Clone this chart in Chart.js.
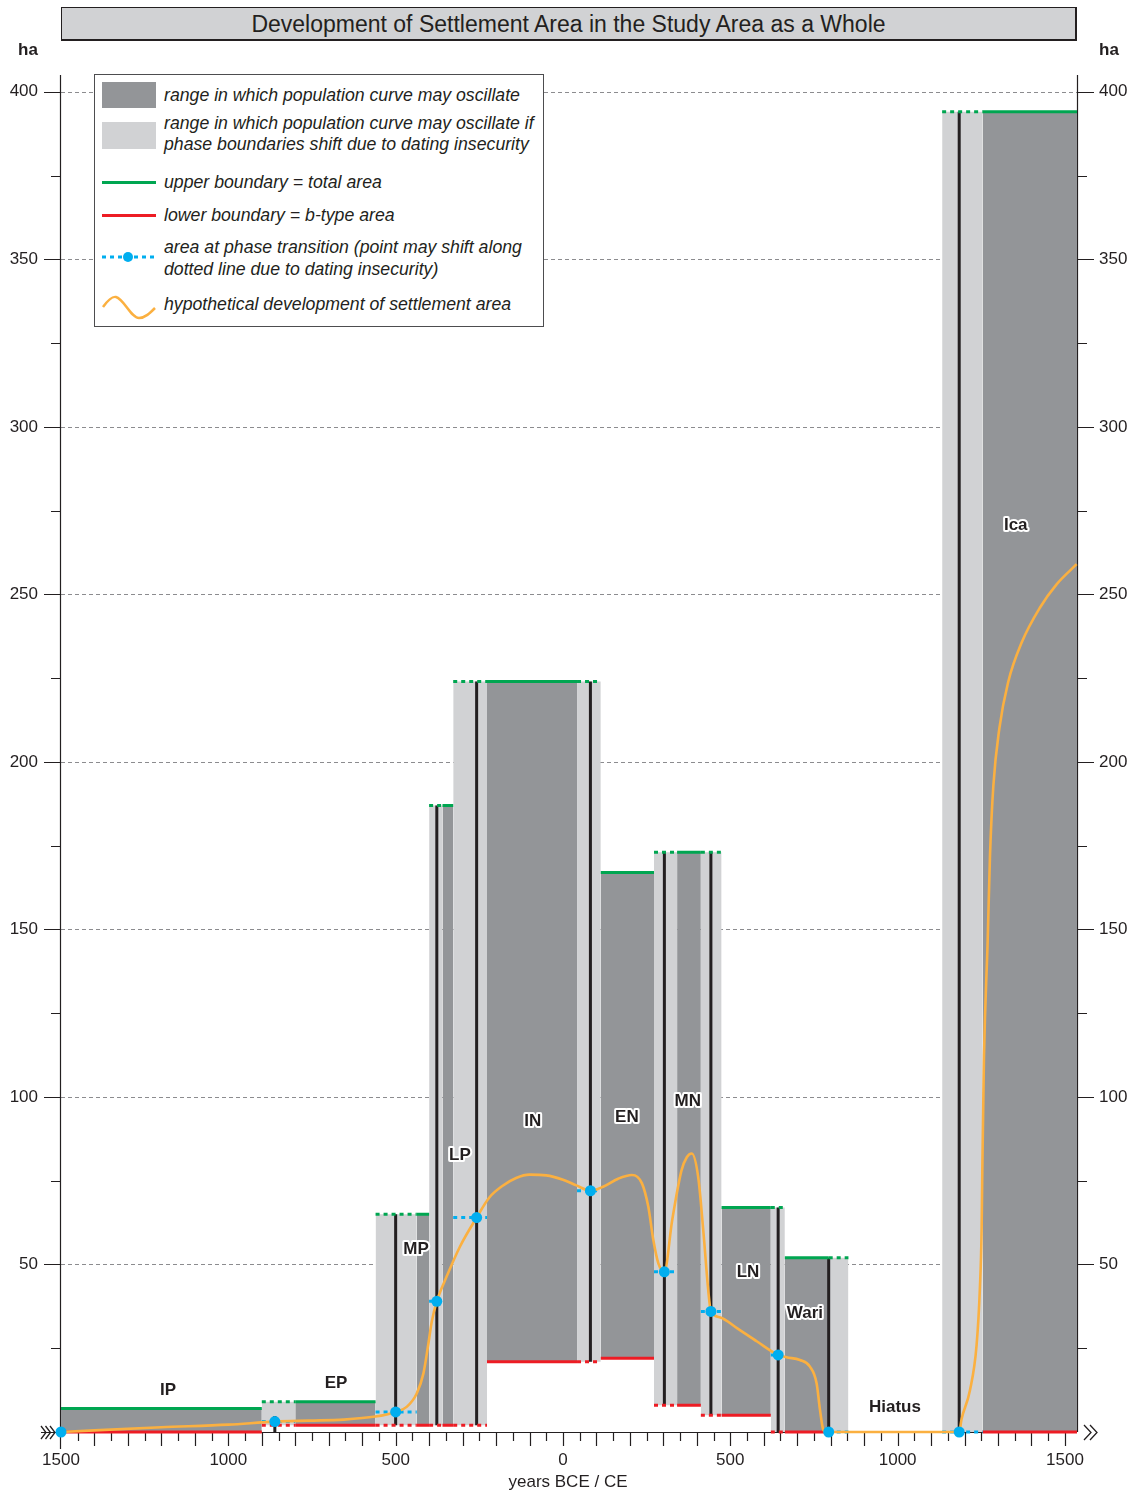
<!DOCTYPE html>
<html>
<head>
<meta charset="utf-8">
<script src="https://cdn.jsdelivr.net/npm/chart.js@4.4.1/dist/chart.umd.min.js"></script>
<style>
  body { margin: 0; background: #fff; font-family: "Liberation Sans", Arial, sans-serif; color: #231f20; }
  #wrap { position: relative; width: 1137px; height: 1494px; overflow: hidden; }
  #chart { position: absolute; left: 0; top: 0; }
  .title { position: absolute; left: 61px; top: 7px; width: 1013px; height: 31px; background: #d1d2d4;
           border: 1px solid #231f20; border-right-width: 2px; border-bottom-width: 2px;
           font-size: 23px; line-height: 32px; text-align: center; }
  .unit { position: absolute; top: 40px; font-weight: bold; font-size: 17px; }
  .axis-title { position: absolute; left: 468px; width: 200px; top: 1472px; text-align: center; font-size: 17px; }
  .legend { position: absolute; left: 94px; top: 74px; width: 450px; height: 253px; background: #fff;
            border: 1px solid #4d4d4f; box-sizing: border-box; }
  .legend svg { position: absolute; left: 0; top: 0; }
  .legend .t { position: absolute; left: 69px; font-style: italic; font-size: 17.7px; line-height: 20px; white-space: nowrap; }
</style>
</head>
<body>
<div id="wrap">
  <canvas id="chart" width="1137" height="1494"></canvas>
  <div class="title">Development of Settlement Area in the Study Area as a Whole</div>
  <div class="unit" style="left:18px">ha</div>
  <div class="unit" style="left:1099px">ha</div>
  <div class="axis-title">years BCE / CE</div>
  <div class="legend">
    <svg width="70" height="250">
      <rect x="7" y="7" width="54" height="26" fill="#939598"/>
      <rect x="7" y="47" width="54" height="27" fill="#d1d2d4"/>
      <line x1="7" y1="107.5" x2="61" y2="107.5" stroke="#00a651" stroke-width="3"/>
      <line x1="7" y1="140.5" x2="61" y2="140.5" stroke="#ed1c24" stroke-width="3"/>
      <line x1="7" y1="182" x2="61" y2="182" stroke="#00aeef" stroke-width="3" stroke-dasharray="4 4"/>
      <circle cx="33" cy="182" r="5" fill="#00aeef"/>
      <path d="M8,232 C13,225 17,221 21,222 C29,224 36,243 44,243 C50,243 55,238 60,233" fill="none" stroke="#fbb040" stroke-width="2.5"/>
    </svg>
    <div class="t" style="top:10px">range in which population curve may oscillate</div>
    <div class="t" style="top:38px;line-height:21px">range in which population curve may oscillate if<br>phase boundaries shift due to dating insecurity</div>
    <div class="t" style="top:97px">upper boundary = total area</div>
    <div class="t" style="top:130px">lower boundary = b-type area</div>
    <div class="t" style="top:161px;line-height:22px">area at phase transition (point may shift along<br>dotted line due to dating insecurity)</div>
    <div class="t" style="top:219px">hypothetical development of settlement area</div>
  </div>
</div>
<script>
// phases (core range = dark grey)
const phaseNames = ['IP', 'EP', 'MP', 'LP', 'IN', 'EN', 'MN', 'LN', 'Wari', 'Hiatus', 'Ica'];
const phaseStart = [-1500, -800, -437, -360, -227, 113, 341, 474, 663, 853, 1254];
const phaseEnd   = [-900, -560, -400, -328, 42, 272, 412, 621, 794, 1133, 1536];
const totalArea  = [7, 9, 65, 187, 224, 167, 173, 67, 52, 0, 394];   // upper boundary
const bTypeArea  = [0, 2, 2, 2, 21, 22, 8, 5, 0, 0, 0];              // lower boundary
const labelYear  = [-1180, -678, -439, -308, -90, 191, 373, 553, 723, 992, 1353];
const labelArea  = [12.5, 14.6, 54.6, 82.6, 92.8, 94, 98.7, 47.7, 35.5, 7.5, 270.5];

// phase transitions (dating insecurity = light grey)
const transStart = [-900, -560, -400, -328, 42, 272, 412, 621, 794, 1133];
const transEnd   = [-800, -437, -360, -227, 113, 341, 474, 663, 853, 1254];
const transYear  = [-861, -500, -377, -258, 82, 303, 442, 643, 794, 1184];
const transArea  = [3.1, 6, 39, 64, 72, 47.8, 36, 23, 0, 0];
const zoneLow    = [2, 2, 2, 2, 21, 8, 5, 0, 0, 0];
const zoneHigh   = [9, 65, 187, 224, 224, 173, 173, 67, 52, 394];
const markLow    = [0, 2, 2, 2, 21, 8, 5, 0, 0, 0];
const markHigh   = [4.8, 65, 187, 224, 224, 173, 173, 67, 52, 394];

// hypothetical development curve
const curveYear = [-1500, -1200, -1000, -861, -760, -655, -561, -500, -467, -437, -417, -402, -392, -377, -348, -308, -258,
  -220, -180, -140, -100, -50, 0, 40, 82, 120, 165, 206, 236, 255, 270, 285, 303, 326, 354, 370, 385, 404, 420, 434, 442,
  470, 520, 580, 643, 668, 708, 738, 758, 768, 778, 786, 794, 1184, 1191, 1216, 1236, 1246, 1251, 1253, 1258, 1269, 1276, 1286,
  1304, 1330, 1371, 1425, 1475, 1535];
const curveArea = [0, 1.4, 2.2, 3.1, 3.4, 3.7, 4.6, 6, 7.5, 11.5, 17.5, 26.5, 33, 39, 46.3, 55.3, 64,
  70, 73.5, 75.8, 76.8, 76.6, 75.3, 73.6, 72, 73.2, 75.6, 76.7, 74.2, 67.2, 57.3, 50.3, 47.8, 63, 78, 82, 83.1, 76.1, 59.3, 42.4, 36,
  34.2, 31, 27, 23, 22.3, 21.5, 19.5, 14.5, 6.6, 0.6, 0, 0, 0, 3.8, 12.4, 26, 43.3, 60.5, 77.7, 112, 146.4, 172, 192.8,
  210, 223.7, 235.7, 246, 253, 259];

// axes
const xLabelYears = [-1500, -1000, -500, 0, 500, 1000, 1500];
const xLabels     = ['1500', '1000', '500', '0', '500', '1000', '1500'];
const yLabelAreas = [50, 100, 150, 200, 250, 300, 350, 400];
const yLabels     = ['50', '100', '150', '200', '250', '300', '350', '400'];

const DARK = '#939598', LIGHT = '#d1d2d4', GREEN = '#00a651', RED = '#ed1c24',
      BLUE = '#00aeef', ORANGE = '#fbb040', INK = '#231f20';

function rect(x0, x1, lo, hi, color, order) {
    return {
        data: [{ x: x0, y: hi }, { x: x1, y: hi }],
        fill: { value: lo }, backgroundColor: color,
        borderWidth: 0, pointRadius: 0, order: order, clip: false
    };
}

function segs(list, color, width, dash, order) {
    const data = [];
    list.forEach(s => {
        data.push({ x: s[0], y: s[1] }, { x: s[2], y: s[3] }, { x: s[2], y: null });
    });
    return {
        data: data, borderColor: color, borderWidth: width, borderDash: dash,
        borderCapStyle: 'butt', pointRadius: 0, fill: false, spanGaps: false, order: order, clip: false
    };
}

const datasets = [];
transStart.forEach((s, i) => datasets.push(rect(s, transEnd[i], zoneLow[i], zoneHigh[i], LIGHT, 70)));
phaseStart.forEach((s, i) => {
    if (totalArea[i] > bTypeArea[i]) datasets.push(rect(s, phaseEnd[i], bTypeArea[i], totalArea[i], DARK, 60));
});

// black marks at phase transitions
datasets.push(segs(transYear.map((t, i) => [t, markLow[i], t, markHigh[i]]), INK, 3, [], 50));

// upper / lower boundaries
const phaseIdx = phaseStart.map((s, i) => i).filter(i => totalArea[i] > 0);
datasets.push(segs(phaseIdx.map(i => [phaseStart[i], totalArea[i], phaseEnd[i], totalArea[i]]), GREEN, 3, [], 40));
datasets.push(segs(phaseIdx.map(i => [phaseStart[i], bTypeArea[i], phaseEnd[i], bTypeArea[i]]), RED, 3, [], 40));
datasets.push(segs(transStart.map((s, i) => [s, zoneHigh[i], transEnd[i], zoneHigh[i]]), GREEN, 3, [4, 4], 40));
const redZones = transStart.map((s, i) => i).filter(i => transArea[i] !== zoneLow[i]);
datasets.push(segs(redZones.map(i => [transStart[i], zoneLow[i], transEnd[i], zoneLow[i]]), RED, 3, [4, 4], 40));

// dotted transition ranges
datasets.push(segs(transStart.map((s, i) => [s, transArea[i], transEnd[i], transArea[i]]), BLUE, 3, [4, 4], 30));

// hypothetical curve
datasets.push({
    data: curveYear.map((x, i) => ({ x: x, y: curveArea[i] })),
    borderColor: ORANGE, borderWidth: 2.6, cubicInterpolationMode: 'monotone',
    pointRadius: 0, fill: false, order: 20, clip: false
});

// transition points
datasets.push({
    data: [{ x: curveYear[0], y: curveArea[0] }].concat(transYear.map((t, i) => ({ x: t, y: transArea[i] }))),
    showLine: false, pointRadius: 5.5, pointBackgroundColor: BLUE, pointBorderWidth: 0,
    fill: false, order: 10, clip: false
});

const axesPlugin = {
    id: 'axes',
    beforeDatasetsDraw(chart) {
        const { ctx, chartArea: a, scales: { x, y } } = chart;
        ctx.save();
        // dashed grid
        ctx.strokeStyle = '#8c8c8f';
        ctx.lineWidth = 1;
        ctx.setLineDash([4, 3]);
        yLabelAreas.forEach(v => {
            const py = Math.round(y.getPixelForValue(v)) + 0.5;
            ctx.beginPath(); ctx.moveTo(a.left, py); ctx.lineTo(a.right, py); ctx.stroke();
        });
        ctx.setLineDash([]);
        ctx.strokeStyle = INK;
        ctx.lineWidth = 1.2;
        const y0 = y.getPixelForValue(0);
        // axis lines
        ctx.beginPath();
        ctx.moveTo(a.left - 0.5, a.top); ctx.lineTo(a.left - 0.5, y0 + 17);
        ctx.moveTo(a.right + 0.5, a.top); ctx.lineTo(a.right + 0.5, y0);
        ctx.moveTo(a.left - 20, y0 + 0.5); ctx.lineTo(a.right, y0 + 0.5);
        // x ticks
        for (let v = -1450; v <= 1500; v += 50) {
            const px = Math.round(x.getPixelForValue(v)) + 0.5;
            const len = (v % 100 === 0) ? 14 : 9;
            ctx.moveTo(px, y0); ctx.lineTo(px, y0 + len);
        }
        // y ticks, both sides
        for (let v = 25; v <= 400; v += 25) {
            const py = Math.round(y.getPixelForValue(v)) + 0.5;
            const len = (v % 50 === 0) ? 17 : 10;
            ctx.moveTo(a.left, py); ctx.lineTo(a.left - len, py);
            ctx.moveTo(a.right, py); ctx.lineTo(a.right + len, py);
        }
        ctx.stroke();
        // chevrons
        ctx.lineWidth = 1.3;
        ctx.beginPath();
        [41, 45.5, 50].forEach(cx => {
            ctx.moveTo(cx, y0 - 6); ctx.lineTo(cx + 5, y0 + 0.5); ctx.lineTo(cx, y0 + 7);
        });
        [1084, 1090].forEach(cx => {
            ctx.moveTo(cx, y0 - 7); ctx.lineTo(cx + 7, y0 + 0.5); ctx.lineTo(cx, y0 + 8);
        });
        ctx.stroke();
        // tick labels
        ctx.fillStyle = INK;
        ctx.font = '17px "Liberation Sans", Arial, sans-serif';
        ctx.textBaseline = 'middle';
        ctx.textAlign = 'center';
        xLabelYears.forEach((v, i) => ctx.fillText(xLabels[i], x.getPixelForValue(v), y0 + 28));
        yLabelAreas.forEach((v, i) => {
            const py = y.getPixelForValue(v);
            ctx.textAlign = 'right';
            ctx.fillText(yLabels[i], a.left - 23, py);
            ctx.textAlign = 'left';
            ctx.fillText(yLabels[i], a.right + 22, py);
        });
        ctx.restore();
    },
    afterDatasetsDraw(chart) {
        const { ctx, scales: { x, y } } = chart;
        ctx.save();
        ctx.font = 'bold 17px "Liberation Sans", Arial, sans-serif';
        ctx.textAlign = 'center';
        ctx.textBaseline = 'middle';
        ctx.lineJoin = 'round';
        phaseNames.forEach((name, i) => {
            const px = x.getPixelForValue(labelYear[i]);
            const py = y.getPixelForValue(labelArea[i]);
            ctx.strokeStyle = '#fff';
            ctx.lineWidth = 4;
            ctx.strokeText(name, px, py);
            ctx.fillStyle = INK;
            ctx.fillText(name, px, py);
        });
        ctx.restore();
    }
};

new Chart(document.getElementById('chart'), {
    type: 'line',
    data: { datasets: datasets },
    plugins: [axesPlugin],
    options: {
        responsive: false,
        animation: false,
        devicePixelRatio: 1,
        layout: { padding: { left: 61, right: 60, top: 75, bottom: 62 } },
        scales: {
            x: { type: 'linear', min: -1500, max: 1536, display: false },
            y: { type: 'linear', min: 0, max: 405, display: false }
        },
        plugins: {
            legend: { display: false },
            tooltip: { enabled: false }
        }
    }
});
</script>
</body>
</html>
